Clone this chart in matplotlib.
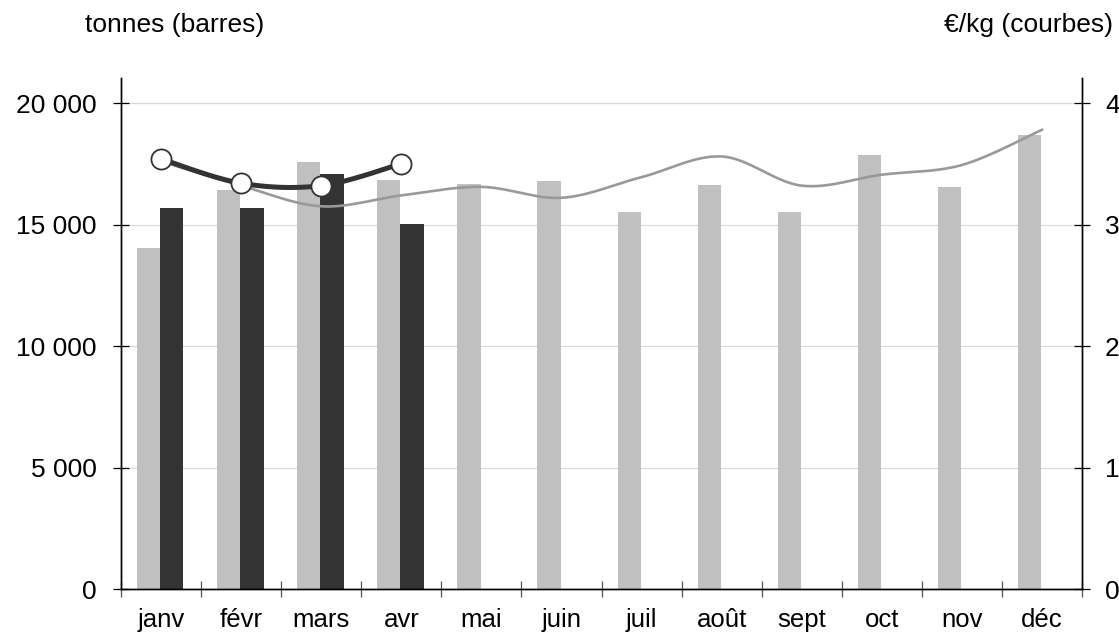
import numpy as np
import matplotlib
matplotlib.use("Agg")
import matplotlib.pyplot as plt
from matplotlib.ticker import FuncFormatter

plt.rcParams['font.family'] = ['Liberation Sans', 'DejaVu Sans']

mois = ['janv', 'févr', 'mars', 'avr', 'mai', 'juin', 'juil', 'août',
        'sept', 'oct', 'nov', 'déc']
# tonnes, année précédente (barres grises) et année en cours (barres foncées)
tonnes_prec = [14050, 16420, 17580, 16820, 16680, 16780, 15500, 16620,
               15520, 17860, 16540, 18670]
tonnes_cour = [15680, 15700, 17080, 15040]
# €/kg, année précédente (courbe grise) et année en cours (courbe foncée)
prix_prec = [3.52, 3.32, 3.15, 3.24, 3.31, 3.22, 3.39, 3.56, 3.32, 3.41, 3.49, 3.78]
prix_cour = [3.54, 3.34, 3.32, 3.50]


def lisse(x, y, n=30):
    # courbe lissée type tableur (Bezier / Catmull-Rom)
    x = np.asarray(x, float)
    y = np.asarray(y, float)
    p = np.column_stack([x, y])
    p = np.vstack([p[0], p, p[-1]])
    out = []
    t = np.linspace(0, 1, n)[:, None]
    for i in range(1, len(p) - 2):
        p0, p1, p2, p3 = p[i - 1], p[i], p[i + 1], p[i + 2]
        c1 = p1 + (p2 - p0) / 6
        c2 = p2 - (p3 - p1) / 6
        seg = ((1 - t) ** 3) * p1 + 3 * ((1 - t) ** 2) * t * c1 + 3 * (1 - t) * t ** 2 * c2 + t ** 3 * p2
        out.append(seg if i == 1 else seg[1:])
    out = np.vstack(out)
    return out[:, 0], out[:, 1]


fig = plt.figure(figsize=(11.19, 6.33), dpi=100)
ax = fig.add_axes([0.1081, 0.0695, 0.967 - 0.1081, 0.8768 - 0.0695])
ax2 = ax.twinx()

x = np.arange(len(mois))
w = 0.29
ax.bar(x - 0.30, tonnes_prec, width=w, align='edge', color='#c0c0c0', zorder=2)
ax.bar(np.arange(len(tonnes_cour)) - 0.01, tonnes_cour, width=w, align='edge',
       color='#333333', zorder=2)

ymax = 20000 * (588 - 78) / 485
ax.set_ylim(0, ymax)
ax.set_xlim(-0.5, 11.5)
ax.set_yticks([0, 5000, 10000, 15000, 20000])
ax.yaxis.set_major_formatter(FuncFormatter(lambda v, p: f"{int(v):,}".replace(',', ' ')))
ax.grid(axis='y', color='#d9d9d9', linewidth=0.9, zorder=0)
ax.set_axisbelow(True)

ax.set_xticks(np.arange(-0.5, 12, 1))
ax.set_xticklabels([])
ax.set_xticks(x, minor=True)
ax.set_xticklabels(mois, minor=True)
ax.tick_params(axis='x', which='major', direction='inout', length=11, width=0.9, color='#555555')
ax.tick_params(axis='x', which='minor', length=0, pad=14, labelsize=18.5)
ax.tick_params(axis='y', direction='inout', length=11, width=0.9, pad=12, labelsize=19)

ax2.set_ylim(0, 4 * ymax / 20000)
ax2.set_yticks([0, 1, 2, 3, 4])
ax2.tick_params(axis='y', direction='inout', length=11, width=0.9, pad=11, labelsize=19)

gx, gy = lisse(x, prix_prec)
ax2.plot(gx, gy, color='#999999', linewidth=1.9, zorder=3)
dx, dy = lisse(np.arange(len(prix_cour)), prix_cour)
ax2.plot(dx, dy, color='#333333', linewidth=3.6, zorder=4, solid_capstyle='round')
ax2.plot(np.arange(len(prix_cour)), prix_cour, linestyle='none', marker='o',
         markersize=14.5, markerfacecolor='white', markeredgecolor='#333333',
         markeredgewidth=1.3, zorder=5)

for a in (ax, ax2):
    a.spines['top'].set_visible(False)
    for s in ('left', 'right', 'bottom'):
        a.spines[s].set_linewidth(1.0)
        a.spines[s].set_color('black')

fig.text(85 / 1119, 1 - 25 / 633, 'tonnes (barres)', ha='left', va='center', fontsize=19)
fig.text(1113 / 1119, 1 - 25 / 633, '€/kg (courbes)', ha='right', va='center', fontsize=19)

fig.savefig('out.png', dpi=100)
